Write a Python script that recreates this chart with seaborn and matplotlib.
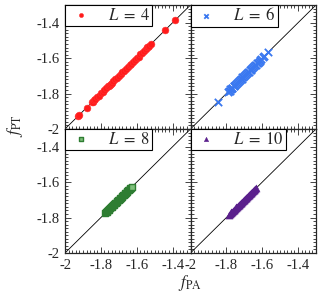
import numpy as np
import pandas as pd
import matplotlib
matplotlib.use("Agg")
import matplotlib.pyplot as plt
import seaborn as sns
from matplotlib.ticker import MultipleLocator, FixedLocator, FixedFormatter

# f_PA / f_PT values, one pair of lists per system size
pa_4 = [-1.93, -1.92, -1.88, -1.85, -1.845, -1.84, -1.83, -1.82, -1.81, -1.80,
        -1.79, -1.78, -1.77, -1.76, -1.755, -1.75, -1.745, -1.74, -1.73, -1.72,
        -1.71, -1.70, -1.69, -1.68, -1.67, -1.66, -1.65, -1.64, -1.63, -1.62,
        -1.61, -1.60, -1.59, -1.58, -1.57, -1.56, -1.55, -1.54, -1.535, -1.53,
        -1.52, -1.44, -1.385]
pt_4 = [-1.928, -1.919, -1.879, -1.849, -1.846, -1.839, -1.831, -1.819, -1.811, -1.799,
        -1.791, -1.779, -1.771, -1.759, -1.756, -1.749, -1.746, -1.739, -1.731, -1.719,
        -1.711, -1.699, -1.691, -1.679, -1.671, -1.659, -1.651, -1.639, -1.631, -1.619,
        -1.611, -1.599, -1.591, -1.579, -1.571, -1.559, -1.551, -1.539, -1.536, -1.529,
        -1.521, -1.441, -1.384]

pa_6 = [-1.845, -1.79, -1.786, -1.782, -1.778, -1.774, -1.77, -1.766, -1.76, -1.755,
        -1.75, -1.745, -1.74, -1.735, -1.73, -1.725, -1.72, -1.715, -1.71, -1.705,
        -1.70, -1.695, -1.69, -1.685, -1.68, -1.675, -1.67, -1.665, -1.66, -1.655,
        -1.65, -1.645, -1.64, -1.635, -1.63, -1.625, -1.62, -1.615, -1.61, -1.605,
        -1.595, -1.59, -1.565]
pt_6 = [-1.846, -1.792, -1.785, -1.784, -1.777, -1.776, -1.769, -1.767, -1.759, -1.756,
        -1.749, -1.746, -1.739, -1.736, -1.729, -1.726, -1.719, -1.716, -1.709, -1.706,
        -1.699, -1.696, -1.689, -1.686, -1.679, -1.676, -1.669, -1.666, -1.659, -1.656,
        -1.649, -1.646, -1.639, -1.636, -1.629, -1.626, -1.619, -1.616, -1.609, -1.606,
        -1.594, -1.589, -1.566]

pa_8 = [-1.776, -1.772, -1.768, -1.764, -1.76, -1.756, -1.752, -1.748, -1.744, -1.74,
        -1.736, -1.732, -1.728, -1.724, -1.72, -1.716, -1.712, -1.708, -1.704, -1.70,
        -1.696, -1.692, -1.688, -1.684, -1.68, -1.676, -1.672, -1.668, -1.664, -1.66,
        -1.656, -1.652, -1.648, -1.644, -1.64, -1.636, -1.632, -1.625]
pt_8 = [-1.774, -1.771, -1.767, -1.763, -1.759, -1.755, -1.751, -1.747, -1.743, -1.739,
        -1.735, -1.731, -1.727, -1.723, -1.719, -1.715, -1.711, -1.707, -1.703, -1.699,
        -1.695, -1.691, -1.687, -1.683, -1.679, -1.675, -1.671, -1.667, -1.663, -1.659,
        -1.655, -1.651, -1.647, -1.643, -1.639, -1.635, -1.631, -1.625]

pa_10 = [-1.788, -1.782, -1.776, -1.772, -1.768, -1.764, -1.76, -1.756, -1.752, -1.748,
         -1.744, -1.74, -1.736, -1.732, -1.728, -1.724, -1.72, -1.716, -1.712, -1.708,
         -1.704, -1.70, -1.696, -1.692, -1.688, -1.684, -1.68, -1.676, -1.672, -1.668,
         -1.664, -1.66, -1.656, -1.652, -1.648, -1.644, -1.64, -1.636]
pt_10 = [-1.787, -1.781, -1.775, -1.771, -1.767, -1.763, -1.759, -1.755, -1.751, -1.747,
         -1.743, -1.739, -1.735, -1.731, -1.727, -1.723, -1.719, -1.715, -1.711, -1.707,
         -1.703, -1.699, -1.695, -1.691, -1.687, -1.683, -1.679, -1.675, -1.671, -1.667,
         -1.663, -1.659, -1.655, -1.651, -1.647, -1.643, -1.639, -1.635]

sizes = [4, 6, 8, 10]
tick_vals = [-2.0, -1.8, -1.6, -1.4]
tick_labels = ["-2", "-1.8", "-1.6", "-1.4"]

df = pd.concat([
    pd.DataFrame({"pa": pa_4, "pt": pt_4, "L": 4}),
    pd.DataFrame({"pa": pa_6, "pt": pt_6, "L": 6}),
    pd.DataFrame({"pa": pa_8, "pt": pt_8, "L": 8}),
    pd.DataFrame({"pa": pa_10, "pt": pt_10, "L": 10}),
])

sns.set_style("ticks")
plt.rcParams["font.family"] = ["Liberation Serif", "DejaVu Serif"]
plt.rcParams["mathtext.fontset"] = "stix"
plt.rcParams["axes.unicode_minus"] = False

styles = {
    4: dict(marker="o", color="#ff1a1a", s=24, edgecolor="#ff3030", linewidth=0.4),
    6: dict(marker="x", color="#3a78f0", s=28, linewidth=1.3),
    8: dict(marker="s", color="#7fbf7b", s=24, edgecolor="#2e7d32", linewidth=1.0),
    10: dict(marker="^", color="#5a1f8c", s=26, edgecolor="#5a1f8c", linewidth=0.4),
}

fig = plt.figure(figsize=(3.18, 2.95), dpi=100)
left, bottom, w, h = 65 / 318, (295 - 253) / 295, 125.5 / 318, 124 / 295
positions = [(left, bottom + h), (left + w, bottom + h), (left, bottom), (left + w, bottom)]

for i, L in enumerate(sizes):
    ax = fig.add_axes([positions[i][0], positions[i][1], w, h])
    sub = df[df["L"] == L]
    ax.plot([-2, -1.3], [-2, -1.3], color="black", lw=0.6, zorder=1)
    sns.scatterplot(data=sub, x="pa", y="pt", ax=ax, label=rf"$L\;=\;{L}$",
                    zorder=2, **styles[L])
    ax.set_xlim(-2, -1.3)
    ax.set_ylim(-2, -1.3)
    ax.set_xlabel("")
    ax.set_ylabel("")
    for a in (ax.xaxis, ax.yaxis):
        a.set_major_locator(FixedLocator(tick_vals))
        a.set_major_formatter(FixedFormatter(tick_labels))
        a.set_minor_locator(MultipleLocator(0.02))
    ax.tick_params(which="both", direction="in", top=True, right=True,
                   labelsize=10.5, width=0.6, pad=4)
    ax.tick_params(which="major", length=4)
    ax.tick_params(which="minor", length=2)
    if i in (0, 1):
        ax.tick_params(labelbottom=False)
    if i in (1, 3):
        ax.tick_params(labelleft=False)
    for sp in ax.spines.values():
        sp.set_linewidth(0.9)
    leg = ax.legend(loc="upper left", borderaxespad=0, fontsize=12,
                    fancybox=False, framealpha=1, edgecolor="black",
                    handletextpad=0.8, borderpad=0.15, markerscale=0.6,
                    handlelength=1.6)
    leg.get_frame().set_linewidth(0.8)

fig.text(15 / 318, 1 - 126 / 295, r"$f_{\rm PT}$", rotation=90, fontsize=12,
         ha="center", va="center")
fig.text(190 / 318, 1 - 283 / 295, r"$f_{\rm PA}$", fontsize=12,
         ha="center", va="center")

fig.savefig("out.png", dpi=100)
